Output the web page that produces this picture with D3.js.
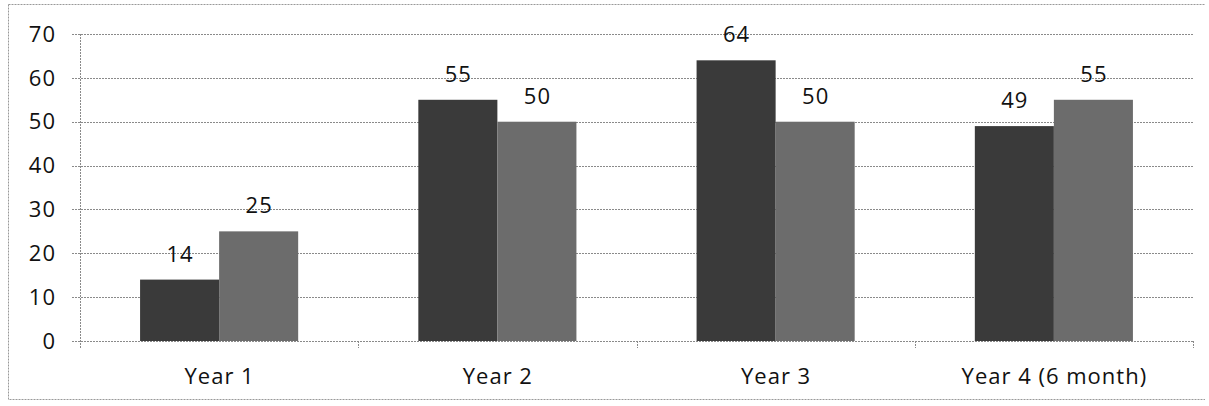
<!DOCTYPE html>
<html>
<head>
<meta charset="utf-8">
<script src="https://cdn.jsdelivr.net/npm/d3@7"></script>
<style>
html,body{margin:0;padding:0;background:#fff;}
svg{display:block;}
text{font-family:"Open Sans",sans-serif;fill:#111;letter-spacing:1px;}
</style>
</head>
<body>
<svg id="chart" width="1209" height="406"></svg>
<script>
const categories = ["Year 1", "Year 2", "Year 3", "Year 4 (6 month)"];
const seriesNames = ["Series 1", "Series 2"];
const series1 = [14, 55, 64, 49];
const series2 = [25, 50, 50, 55];
const yTicks = [0, 10, 20, 30, 40, 50, 60, 70];

const plot = {left: 80, right: 1193, top: 34, bottom: 341};
const colors = ["#3a3a3a", "#6c6c6c"];
const fontSize = "22px";

const svg = d3.select("#chart");

// outer border
svg.append("path")
  .attr("d", `M8.5,4.5 H1205 M8.5,4.5 V399.5 H1205`)
  .attr("fill", "none").attr("stroke", "#999").attr("stroke-dasharray", "2,1");

const y = d3.scaleLinear().domain([0, 70]).range([plot.bottom, plot.top]);
const x0 = d3.scaleBand().domain(categories).range([plot.left, plot.right]).paddingInner(0).paddingOuter(0);
const x1 = d3.scaleBand().domain(seriesNames).range([0, x0.bandwidth()]).paddingInner(0).paddingOuter(0.76);

// gridlines
svg.append("g").selectAll("line").data(yTicks).join("line")
  .attr("x1", plot.left - 8).attr("x2", plot.right)
  .attr("y1", d => Math.round(y(d)) + 0.5).attr("y2", d => Math.round(y(d)) + 0.5)
  .attr("stroke", "#8a8a8a").attr("stroke-dasharray", "2,1");

// vertical axis line
svg.append("line")
  .attr("x1", plot.left + 0.5).attr("x2", plot.left + 0.5)
  .attr("y1", plot.top).attr("y2", plot.bottom + 7)
  .attr("stroke", "#8a8a8a").attr("stroke-dasharray", "2,1");

// category boundary ticks
const bounds = categories.map(c => x0(c) + x0.bandwidth());
svg.append("g").selectAll("line").data(bounds).join("line")
  .attr("x1", d => Math.round(d) + 0.5).attr("x2", d => Math.round(d) + 0.5)
  .attr("y1", plot.bottom).attr("y2", plot.bottom + 7)
  .attr("stroke", "#8a8a8a").attr("stroke-dasharray", "2,1");

// y tick labels
svg.append("g").selectAll("text").data(yTicks).join("text")
  .attr("x", 56).attr("y", d => y(d))
  .attr("dy", "0.35em").attr("text-anchor", "end")
  .style("font-size", fontSize)
  .text(d => d);

// bars
const data = categories.map((c, i) => ({cat: c, vals: [series1[i], series2[i]]}));
const groups = svg.append("g").selectAll("g").data(data).join("g")
  .attr("transform", d => `translate(${x0(d.cat)},0)`);

groups.selectAll("rect").data(d => d.vals.map((v, j) => ({s: seriesNames[j], v, j}))).join("rect")
  .attr("x", d => x1(d.s)).attr("width", x1.bandwidth())
  .attr("y", d => y(d.v)).attr("height", d => y(0) - y(d.v))
  .attr("fill", d => colors[d.j]);

groups.selectAll("text.val").data(d => d.vals.map((v, j) => ({s: seriesNames[j], v, j}))).join("text")
  .attr("class", "val")
  .attr("x", d => x1(d.s) + x1.bandwidth() / 2 + 0.5)
  .attr("y", d => y(d.v) - 18)
  .attr("text-anchor", "middle")
  .style("font-size", fontSize)
  .text(d => d.v);

// category labels
svg.append("g").selectAll("text").data(categories).join("text")
  .attr("x", d => x0(d) + x0.bandwidth() / 2 + 0.5)
  .attr("y", 384)
  .attr("text-anchor", "middle")
  .style("font-size", fontSize)
  .text(d => d);
</script>
</body>
</html>
